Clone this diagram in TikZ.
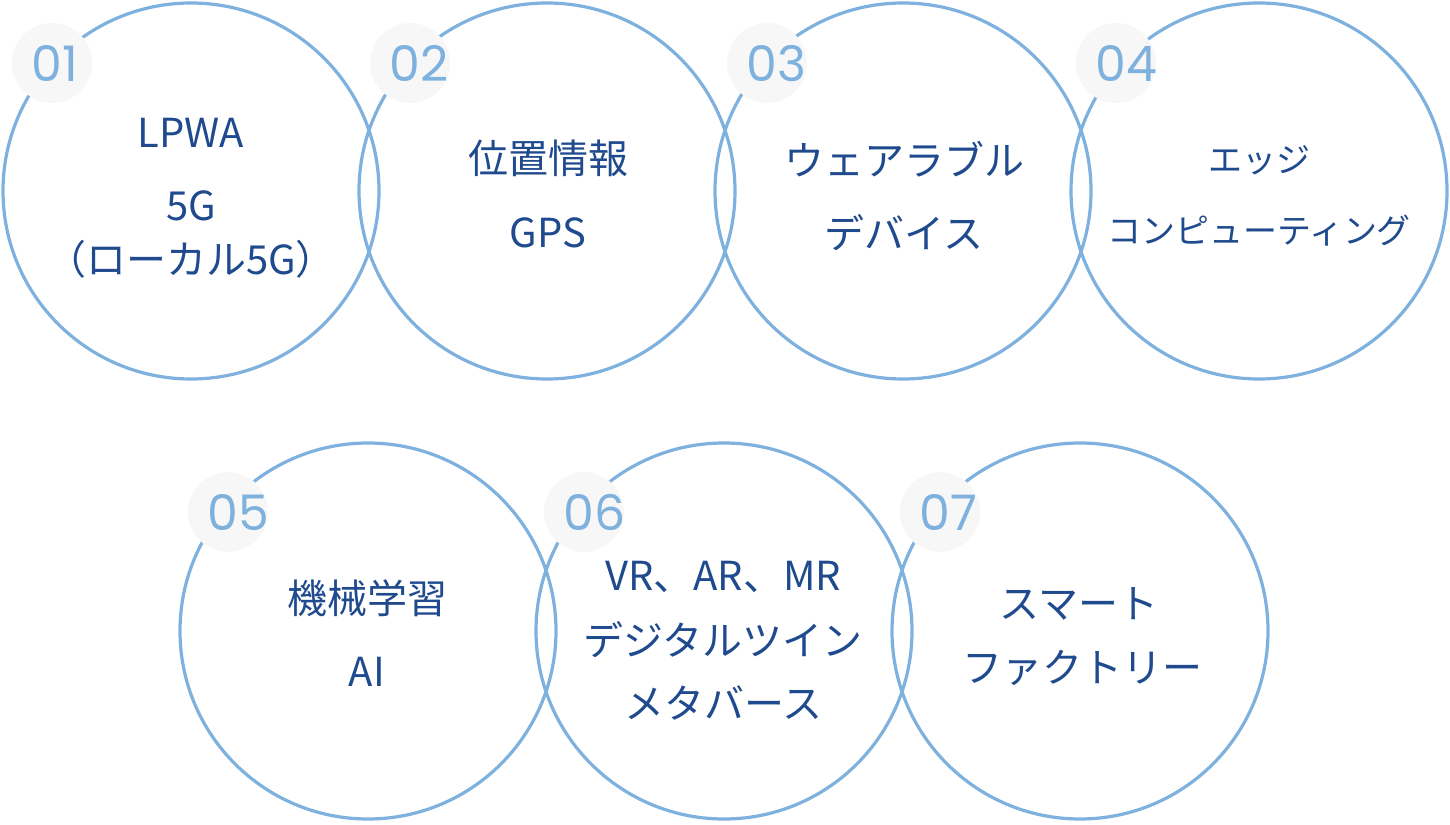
\documentclass[tikz,border=0pt]{standalone}
\usepackage{fontspec}
\setmainfont{Noto Sans CJK JP}
\newfontfamily\numfont{Poppins}
\usetikzlibrary{positioning}
\definecolor{ringblue}{HTML}{7EB1DE}
\definecolor{textblue}{HTML}{1F4A8E}
\definecolor{badgegray}{HTML}{F7F7F7}

\tikzset{
  ring/.style={circle,draw=ringblue,line width=3.2pt,minimum size=376pt,inner sep=0pt},
  badge/.style={circle,fill=badgegray,minimum size=80pt,inner sep=0pt},
  num/.style={anchor=base west,text=ringblue,font=\numfont\fontsize{49}{49}\selectfont},
  txt/.style={anchor=base,text=textblue,font=\fontsize{40}{46}\selectfont},
  txtsm/.style={txt,font=\fontsize{34}{40}\selectfont}
}

\begin{document}
\begin{tikzpicture}[x=1pt,y=-1pt]
\useasboundingbox (0,0) rectangle (1450,824);
% rings
\node[ring] (c1) at (191,191) {};
\node[ring] (c2) at (547,191) {};
\node[ring] (c3) at (903,191) {};
\node[ring] (c4) at (1259,191) {};
\node[ring] (c5) at (368,631) {};
\node[ring] (c6) at (724,631) {};
\node[ring] (c7) at (1080,631) {};
% number badges sit on top of the ring lines
\node[badge] (b1) at (52,63) {};
\node[badge] (b2) at (410,63) {};
\node[badge] (b3) at (767,63) {};
\node[badge] (b4) at (1116,63) {};
\node[badge] (b5) at (228,512) {};
\node[badge] (b6) at (584,512) {};
\node[badge] (b7) at (940,512) {};
\node[num] (n1) at ([xshift=-24pt,yshift=-19pt]b1.center) {01};
\node[num] (n2) at ([xshift=-24pt,yshift=-19pt]b2.center) {02};
\node[num] (n3) at ([xshift=-24pt,yshift=-19pt]b3.center) {03};
\node[num] (n4) at ([xshift=-24pt,yshift=-19pt]b4.center) {04};
\node[num] (n5) at ([xshift=-24pt,yshift=-18pt]b5.center) {05};
\node[num] (n6) at ([xshift=-24pt,yshift=-18pt]b6.center) {06};
\node[num] (n7) at ([xshift=-24pt,yshift=-18pt]b7.center) {07};
% texts
\node[txt] (t1a) at (191,147) {LPWA};
\node[txt] (t1b) at (191,220) {5G};
\node[txt] (t1c) at (191,274) {（ローカル5G）};
\node[txt] (t2a) at (548,173) {位置情報};
\node[txt] (t2b) at (548,247) {GPS};
\node[txt] (t3a) at (904,175) {ウェアラブル};
\node[txt] (t3b) at (904,248) {デバイス};
\node[txtsm] (t4a) at (1259,172) {エッジ};
\node[txtsm] (t4b) at (1259,243) {コンピューティング};
\node[txt] (t5a) at (367,613) {機械学習};
\node[txt] (t5b) at (367,686) {AI};
\node[txt] (t6a) at (723,590) {VR、AR、MR};
\node[txt] (t6b) at (723,655) {デジタルツイン};
\node[txt] (t6c) at (723,718) {メタバース};
\node[txt] (t7a) at (1079,618) {スマート};
\node[txt] (t7b) at (1082,682) {ファクトリー};
\end{tikzpicture}
\end{document}
